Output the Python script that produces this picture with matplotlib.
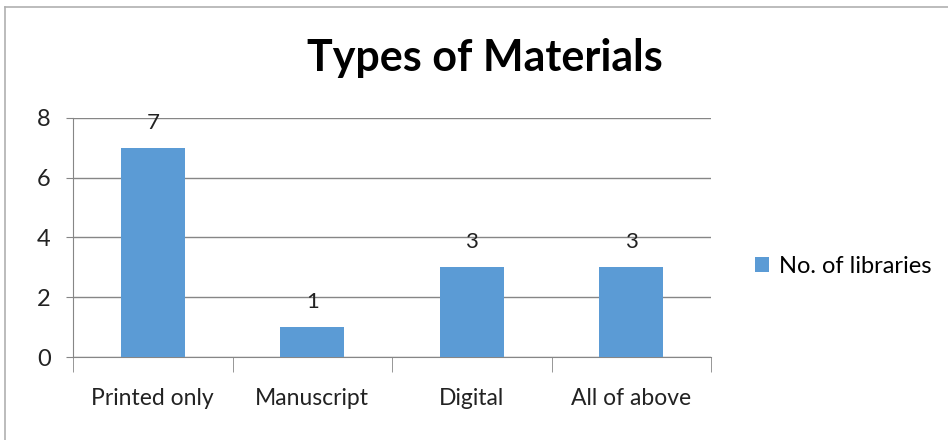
import matplotlib.pyplot as plt
from matplotlib.lines import Line2D

categories = ["Printed only", "Manuscript", "Digital", "All of above"]
libraries = [7, 1, 3, 3]
y_ticks = [0, 2, 4, 6, 8]

plt.rcParams['font.family'] = ['Lato', 'DejaVu Sans']

fig = plt.figure(figsize=(9.48, 4.4), dpi=100)
ax = fig.add_axes([73 / 948, 1 - 357 / 440, (711 - 73) / 948, (357 - 118) / 440])

x = range(len(categories))
bars = ax.bar(x, libraries, width=0.4, color='#5B9BD5', label='No. of libraries', zorder=3)
for b, v in zip(bars, libraries):
    ax.annotate(str(v), (b.get_x() + b.get_width() / 2, v), xytext=(0, 11),
                textcoords='offset points', ha='center', va='bottom', fontsize=16, color='#222222')

ax.set_xlim(-0.5, len(categories) - 0.5)
ax.set_ylim(0, 8)
ax.set_yticks(y_ticks)
ax.set_yticklabels([str(t) for t in y_ticks], fontsize=17, color='#222222')
ax.set_xticks(list(x))
ax.set_xticklabels(categories, fontsize=16.5, color='#222222')
ax.tick_params(axis='x', length=0, pad=22)
ax.tick_params(axis='y', length=5, color='#868686', pad=11)
# category boundary ticks
ax.set_xticks([i - 0.5 for i in range(len(categories) + 1)], minor=True)
ax.tick_params(axis='x', which='minor', length=11, color='#868686')
ax.yaxis.grid(True, color='#868686', lw=1, zorder=0)
for s in ['top', 'right']:
    ax.spines[s].set_visible(False)
for s in ['left', 'bottom']:
    ax.spines[s].set_color('#868686')

fig.text(485 / 948, 1 - 58 / 440, "Types of Materials", ha='center', va='center',
         fontsize=31, fontweight='bold')

ax.legend(loc='center left', bbox_to_anchor=(1.069, 0.38), frameon=False, fontsize=17,
          handlelength=0.6, handleheight=0.6, handletextpad=0.4, borderpad=0, borderaxespad=0)

# outer chart border
fig.add_artist(Line2D([5 / 948, 5 / 948], [0, 1 - 7 / 440], color='#b0b0b0', lw=1.2))
fig.add_artist(Line2D([5 / 948, 1], [1 - 7 / 440, 1 - 7 / 440], color='#b0b0b0', lw=1.2))

fig.savefig('out.png', dpi=100)
